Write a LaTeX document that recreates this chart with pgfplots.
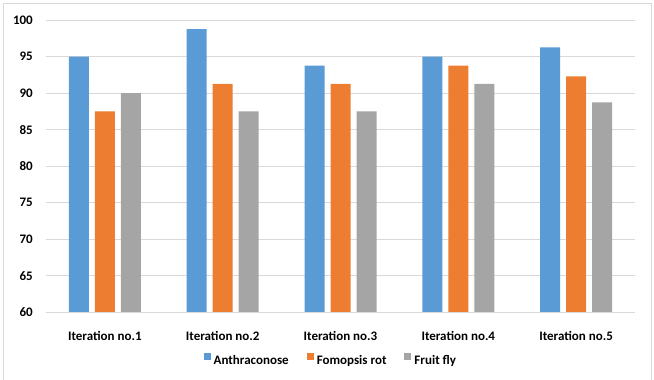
\documentclass[border=0pt]{standalone}
\usepackage{pgfplots}
\pgfplotsset{compat=1.18}
\usepackage{fontspec}
\setmainfont{Carlito}

\definecolor{cBlue}{HTML}{5B9BD5}
\definecolor{cOrange}{HTML}{ED7D31}
\definecolor{cGray}{HTML}{A5A5A5}
\definecolor{cGrid}{HTML}{D9D9D9}

\begin{document}
\begin{tikzpicture}[x=1pt,y=1pt]
\useasboundingbox (0,0) rectangle (654,380);
% chart frame
\draw[cGrid, line width=0.9pt] (3.5,-2) -- (3.5,376.5) -- (651,376.5) -- (651,-2);

\begin{axis}[
  at={(46pt,67.5pt)}, anchor=south west,
  scale only axis, width=589pt, height=292.5pt,
  ybar=6pt, bar width=20pt,
  xmin=-0.5, xmax=4.5,
  ymin=60, ymax=100,
  ytick={60,65,...,100},
  xtick={0,1,2,3,4},
  xticklabels={Iteration no.1,Iteration no.2,Iteration no.3,Iteration no.4,Iteration no.5},
  /pgf/number format/assume math mode=true,
  tick style={draw=none},
  axis line style={draw=none},
  ymajorgrids, grid style={cGrid, line width=0.9pt},
  ticklabel style={font=\fontsize{13}{15}\selectfont\bfseries, text=black},
  xticklabel style={inner sep=0pt, anchor=north, yshift=-14pt},
  yticklabel style={inner sep=0pt, anchor=east, xshift=-13pt},
  legend columns=3,
  legend style={at={(0.482,-0.162)}, anchor=center, draw=none,
    font=\fontsize{13}{15}\selectfont\bfseries,
    nodes={inner sep=0pt},
    /tikz/every odd column/.append style={column sep=3pt},
    /tikz/every even column/.append style={column sep=18pt}},
  legend image code/.code={\fill[#1,draw=none] (0pt,0.7pt) rectangle (7pt,7.7pt);},
  every axis plot/.append style={draw=none},
]
\addplot[fill=cBlue] coordinates {(0,95) (1,98.75) (2,93.75) (3,95) (4,96.25)};
\addplot[fill=cOrange] coordinates {(0,87.5) (1,91.25) (2,91.25) (3,93.75) (4,92.3)};
\addplot[fill=cGray] coordinates {(0,90) (1,87.5) (2,87.5) (3,91.25) (4,88.75)};
\legend{Anthraconose,Fomopsis rot,Fruit fly}
% baseline of the value axis
\draw[cGrid, line width=0.9pt] (rel axis cs:0,0) -- (rel axis cs:1,0);
\end{axis}
\end{tikzpicture}
\end{document}
